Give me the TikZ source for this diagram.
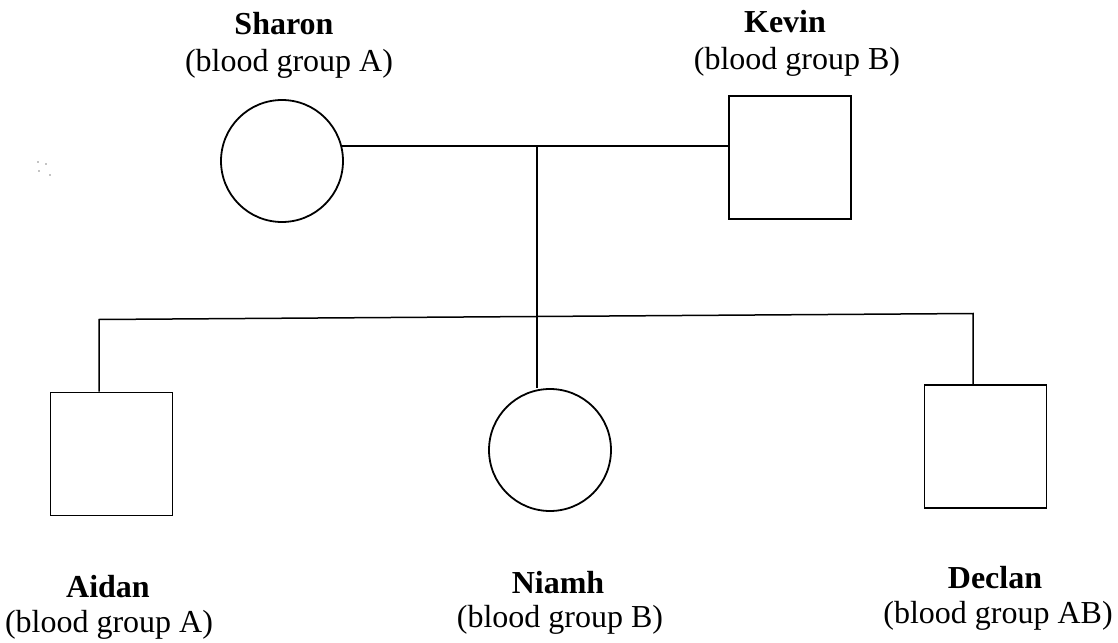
\documentclass[tikz,border=0pt]{standalone}
\usepackage{fontspec}
\setmainfont{Liberation Serif}
\begin{document}
\begin{tikzpicture}[x=0.5pt,y=-0.5pt,
  female/.style={draw, line width=0.9pt, circle, minimum size=61pt, inner sep=0pt},
  male/.style={draw, line width=0.9pt, rectangle, minimum width=61pt, minimum height=61.5pt, inner sep=0pt},
  link/.style={line width=0.75pt},
  who/.style={anchor=base, inner sep=0pt, font=\fontsize{16}{19}\selectfont\bfseries},
  grp/.style={anchor=base, inner sep=0pt, font=\fontsize{16}{19}\selectfont}]
\useasboundingbox (0,0) rectangle (1118,642);

% parents
\node[female] (sharon) at (282,161) {};
\node[male]   (kevin)  at (790,157.5) {};
\node[who] (sharonname) at (284,35) {Sharon};
\node[grp] (sharongrp)  at (289,72) {(blood group A)};
\node[who] (kevinname)  at (785,33) {Kevin};
\node[grp] (kevingrp)   at (797,70) {(blood group B)};

% children
\node[male]   (aidan)  at (111.5,454) {};
\node[female] (niamh)  at (550,450) {};
\node[male]   (declan) at (985.5,446.5) {};
\node[who] (aidanname)  at (108,597) {Aidan};
\node[grp] (aidangrp)   at (109,632) {(blood group A)};
\node[who] (niamhname)  at (558,593) {Niamh};
\node[grp] (niamhgrp)   at (560,627) {(blood group B)};
\node[who] (declanname) at (995,588) {Declan};
\node[grp] (declangrp)  at (998,623) {(blood group AB)};

% junction points of the pedigree lines
\coordinate (mate) at (537,146);
\coordinate (sibL) at (99,319.5);
\coordinate (sibR) at (973,313.5);

% marriage line and descent line
\draw[link] (sharon.14) -- (kevin.west |- sharon.14);
\draw[link] (mate) -- (mate |- niamh.north);

% sibship line with drops to the sons
\draw[link] (sibL |- aidan.north) -- (sibL) -- (sibR) -- (sibR |- declan.north);

% specks beside Sharon
\fill (38,162) circle (0.7);
\fill (46,164) circle (0.7);
\fill (50,175) circle (0.7);
\fill (39,171) circle (0.6);
\end{tikzpicture}
\end{document}
